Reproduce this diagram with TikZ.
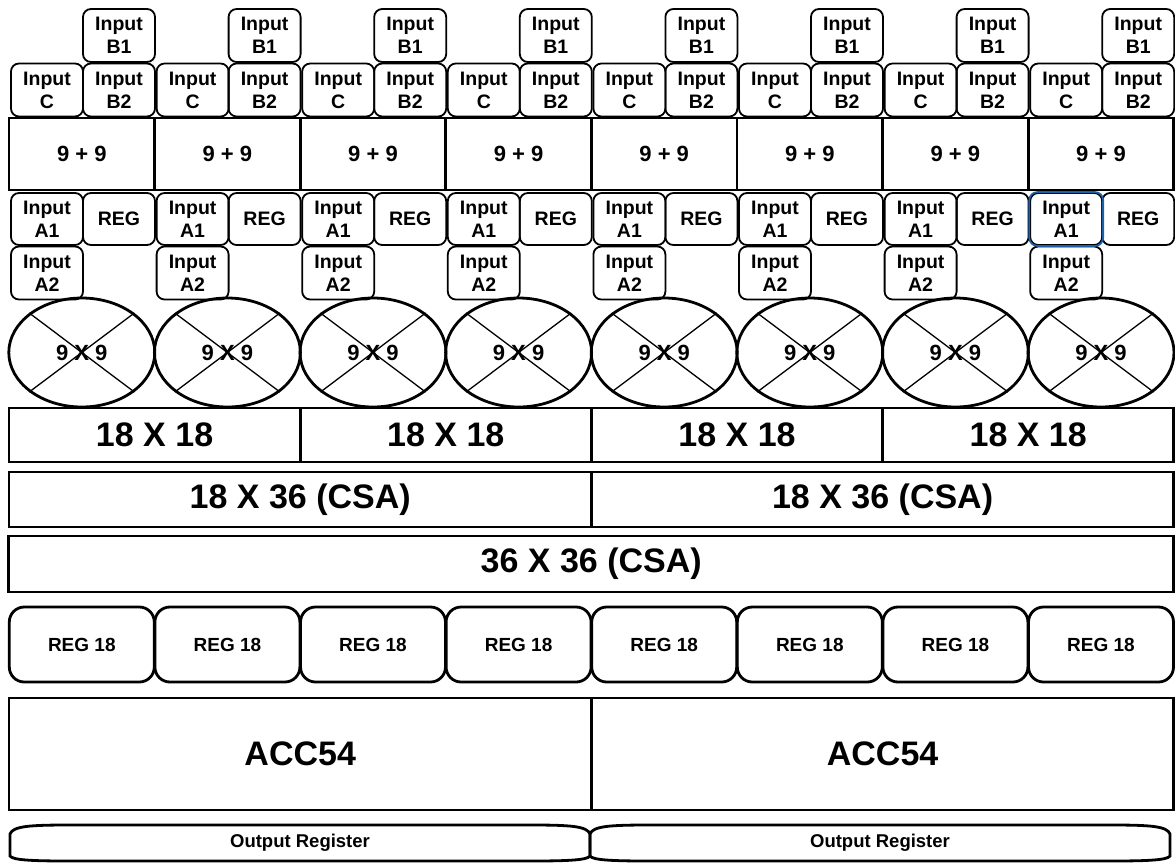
\documentclass[tikz,border=0pt]{standalone}
\usepackage{fontspec}
\setmainfont{Liberation Sans}
\usetikzlibrary{shapes.geometric}
\definecolor{selblue}{RGB}{30,95,165}

\begin{document}
\begin{tikzpicture}[x=1pt,y=-1pt]
 \useasboundingbox (0,0) rectangle (1175,863);
 \tikzstyle{every node} = [inner sep=0pt,align=center]
 \tikzstyle{inbox} = [draw,rounded corners=8pt,line width=1.8pt,minimum width=72pt,minimum height=53pt,font=\fontsize{19.5}{23}\selectfont\bfseries]
 \tikzstyle{sumbox} = [draw,line width=2.8pt,minimum width=145.6pt,minimum height=72pt,font=\fontsize{22}{26}\selectfont\bfseries]
 \tikzstyle{mulell} = [draw,ellipse,line width=2.8pt,minimum width=146pt,minimum height=109pt,font=\fontsize{22}{26}\selectfont\bfseries]
 \tikzstyle{bigbox} = [draw,line width=2.8pt,font=\fontsize{34}{40}\selectfont\bfseries]
 \tikzstyle{regbox} = [draw,rounded corners=15pt,line width=2.8pt,minimum width=145pt,minimum height=75pt,font=\fontsize{19}{23}\selectfont\bfseries]
 \tikzstyle{outline} = [draw,line width=2.8pt]
 % one column per 9x9 multiplier
 \foreach \i in {0,...,7} {
   \pgfmathsetmacro{\xl}{9+145.6*\i}
   \node[inbox] (inB1-\i) at (\xl+110,35.5) {Input\\B1};
   \node[inbox] (inC-\i) at (\xl+38,90) {Input\\C};
   \node[inbox] (inB2-\i) at (\xl+110,90) {Input\\B2};
   \node[sumbox] (sum-\i) at (\xl+72.8,154) {9 + 9};
   \node[inbox,minimum height=52pt] (inA1-\i) at (\xl+38,219) {Input\\A1};
   \node[inbox,minimum height=52pt] (reg-\i) at (\xl+110,219) {REG};
   \node[inbox] (inA2-\i) at (\xl+38,273) {Input\\A2};
   \node[mulell] (mul-\i) at (\xl+72.8,352.5) {9 X 9};
   \draw[line width=1.3pt] (mul-\i.north west) -- (mul-\i.south east);
   \draw[line width=1.3pt] (mul-\i.north east) -- (mul-\i.south west);
   \node[regbox] (reg18-\i) at (\xl+72.8,644.5) {REG 18};
 }
 \draw[selblue,line width=1.8pt,rounded corners=8pt] (inA1-7.south west) rectangle (inA1-7.north east);
 % adder tree
 \foreach \j in {0,...,3}
   \node[bigbox,minimum width=291.2pt,minimum height=54pt] (mul18-\j) at (9+291.2*\j+145.6,435) {18 X 18};
 \foreach \j in {0,1} {
   \node[bigbox,minimum width=582.4pt,minimum height=55pt] (csa-\j) at (9+582.4*\j+291.2,499.5) {18 X 36 (CSA)};
   \node[bigbox,minimum width=582.4pt,minimum height=112pt] (acc-\j) at (9+582.4*\j+291.2,754) {ACC54};
 }
 \node[bigbox,minimum width=1164.8pt,minimum height=56pt] (csa36) at (591.2,564) {36 X 36 (CSA)};
 % output registers
 \foreach \j/\xa/\xb in {0/10/590,1/590/1170} {
   \draw[outline] (\xa,834) .. controls (\xa+3,826) and (\xa+20,825) .. (\xa+60,825)
     -- (\xb-60,825) .. controls (\xb-20,825) and (\xb-3,826) .. (\xb,834)
     -- (\xb,856) .. controls (\xb-3,860) and (\xb-20,861) .. (\xb-60,861)
     -- (\xa+60,861) .. controls (\xa+20,861) and (\xa+3,860) .. (\xa,856) -- cycle;
   \node[font=\fontsize{18.5}{22}\selectfont\bfseries] (out-\j) at ({(\xa+\xb)/2},843) {Output Register};
 }
\end{tikzpicture}
\end{document}
